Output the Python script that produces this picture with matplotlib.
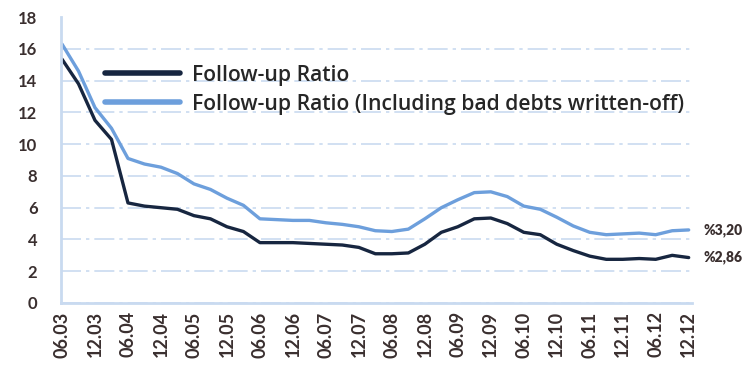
import numpy as np
import matplotlib
matplotlib.use("Agg")
import matplotlib.pyplot as plt

# quarterly observations, June 2003 .. December 2012
quarters = np.arange(39)
tick_labels = ["06.03", "12.03", "06.04", "12.04", "06.05", "12.05", "06.06",
               "12.06", "06.07", "12.07", "06.08", "12.08", "06.09", "12.09",
               "06.10", "12.10", "06.11", "12.11", "06.12", "12.12"]

follow_up = [15.35, 13.8, 11.5, 10.3, 6.3, 6.1, 6.0, 5.9, 5.5, 5.3,
             4.8, 4.5, 3.8, 3.8, 3.8, 3.75, 3.7, 3.65, 3.5, 3.1,
             3.1, 3.15, 3.7, 4.45, 4.8, 5.3, 5.35, 5.0, 4.45, 4.3,
             3.7, 3.3, 2.95, 2.75, 2.75, 2.8, 2.75, 3.0, 2.86]
follow_up_wo = [16.3, 14.6, 12.3, 11.0, 9.1, 8.75, 8.55, 8.15, 7.5, 7.15,
                6.6, 6.15, 5.3, 5.25, 5.2, 5.2, 5.05, 4.95, 4.8, 4.55,
                4.5, 4.65, 5.3, 6.0, 6.5, 6.95, 7.0, 6.7, 6.1, 5.9,
                5.4, 4.85, 4.45, 4.3, 4.35, 4.4, 4.3, 4.55, 4.6]
end_labels = ["%3,20", "%2,86"]

dark = "#172640"
light = "#6d9fdc"
grid_col = "#c9daf0"
text_col = "#3a2f2f"

plt.rcParams["font.family"] = ["Lato", "DejaVu Sans"]

fig = plt.figure(figsize=(7.46, 3.72), dpi=100)
ax = fig.add_axes([0.0818, 0.1855, 0.8458, 0.7685])

ax.plot(quarters, follow_up, color=dark, lw=2.4, label="Follow-up Ratio",
        solid_capstyle="round")
ax.plot(quarters, follow_up_wo, color=light, lw=2.4,
        label="Follow-up Ratio (Including bad debts written-off)",
        solid_capstyle="round")

ax.set_xlim(-0.06, 38.2)
ax.set_ylim(0, 18)
ax.set_yticks(np.arange(0, 19, 2))
ax.set_xticks(quarters[::2])
ax.set_xticklabels(tick_labels, rotation=90)
ax.tick_params(length=0, labelcolor=text_col)
ax.tick_params(axis="y", labelsize=12, pad=17)
ax.tick_params(axis="x", labelsize=13, pad=6)
for lab in ax.get_xticklabels() + ax.get_yticklabels():
    lab.set_fontweight("bold")

ax.yaxis.grid(True, color=grid_col, lw=1.2, ls=(0, (12, 3, 2, 3)))
ax.yaxis.get_gridlines()[-1].set_visible(False)  # no line along the top
ax.set_axisbelow(True)
for side in ("top", "right"):
    ax.spines[side].set_visible(False)
for side in ("left", "bottom"):
    ax.spines[side].set_color(grid_col)
    ax.spines[side].set_linewidth(2)

# end-of-series values
ax.annotate(end_labels[0], (quarters[-1], follow_up_wo[-1]),
            xytext=(11, 0), textcoords="offset points", va="center",
            fontsize=10, fontweight="heavy", color=text_col, annotation_clip=False)
ax.annotate(end_labels[1], (quarters[-1], follow_up[-1]),
            xytext=(11, 0), textcoords="offset points", va="center",
            fontsize=10, fontweight="heavy", color=text_col, annotation_clip=False)

leg = ax.legend(loc="upper left", bbox_to_anchor=(0.0697, 0.833), frameon=False,
                borderaxespad=0, borderpad=0,
                prop={"family": ["Open Sans", "DejaVu Sans"], "size": 15.2,
                      "weight": "semibold"},
                handlelength=3.55, handletextpad=0.57,
                labelspacing=0.37, labelcolor="#262626")
for line in leg.get_lines():
    line.set_linewidth(4)

fig.savefig("out.png", dpi=100)
